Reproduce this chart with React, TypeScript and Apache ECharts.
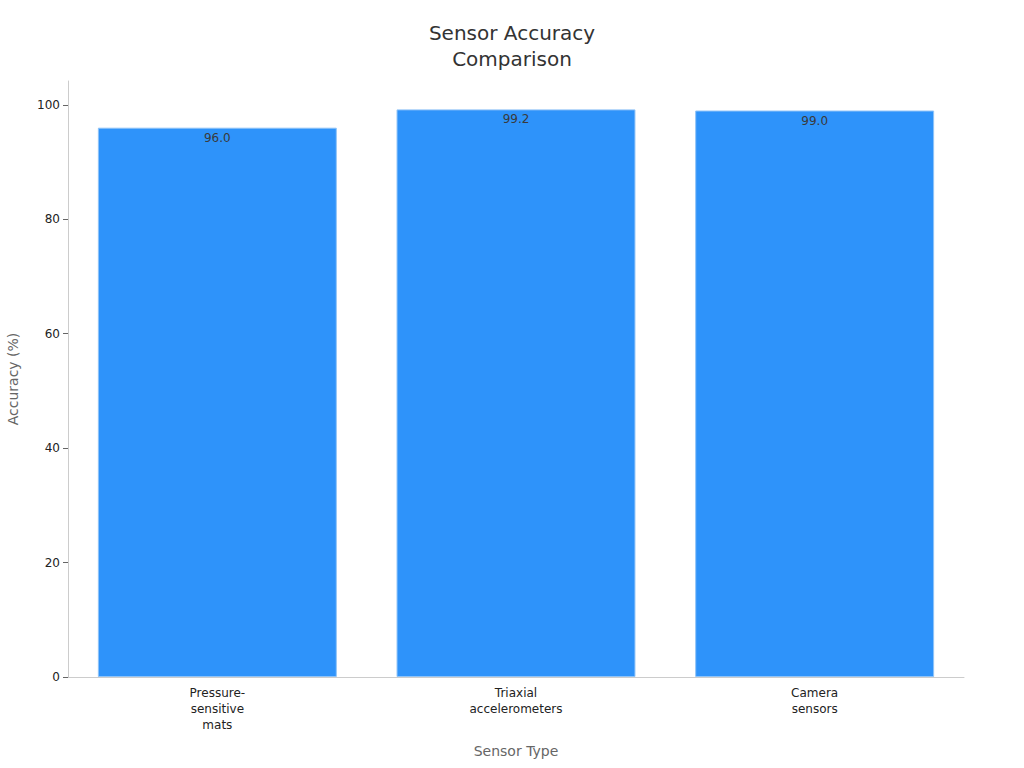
import React, { useEffect, useRef } from "react";
import * as echarts from "echarts";

const categories = ["Pressure-\nsensitive\nmats", "Triaxial\naccelerometers", "Camera\nsensors"];
const accuracy = [96.0, 99.2, 99.0];
const yTicks = [0, 20, 40, 60, 80, 100];

export default function App() {
  const ref = useRef<HTMLDivElement>(null);
  useEffect(() => {
    if (!ref.current) return;
    const chart = echarts.init(ref.current, undefined, { renderer: "svg" });
    const font = "DejaVu Sans";
    chart.setOption({
      animation: false,
      textStyle: { fontFamily: font },
      title: {
        text: "Sensor Accuracy\nComparison",
        left: "center",
        top: 15,
        textStyle: { fontSize: 20, fontWeight: "normal", color: "#333", lineHeight: 26, fontFamily: font },
      },
      grid: { left: 68, right: 60, top: 81, bottom: 91, containLabel: false, outerBoundsMode: "none" },
      xAxis: {
        type: "category",
        data: categories,
        name: "Sensor Type",
        nameLocation: "middle",
        nameGap: 67,
        nameTextStyle: { fontSize: 14, color: "#666", fontFamily: font },
        axisLine: { lineStyle: { color: "#ccc" } },
        axisTick: { alignWithLabel: true, lineStyle: { color: "#666" }, length: 5 },
        axisLabel: { fontSize: 12, color: "#222", lineHeight: 16, margin: 8, fontFamily: font },
      },
      yAxis: {
        type: "value",
        min: 0,
        max: 104.16,
        interval: 20,
        name: "Accuracy (%)",
        nameLocation: "middle",
        nameGap: 48,
        nameTextStyle: { fontSize: 14, color: "#666", fontFamily: font },
        axisLine: { show: true, lineStyle: { color: "#ccc" } },
        axisTick: { show: true, length: 5, lineStyle: { color: "#666" }, customValues: yTicks },
        splitLine: { show: false },
        axisLabel: {
          fontSize: 12,
          color: "#222",
          margin: 8,
          fontFamily: font,
          customValues: yTicks,
        },
      },
      series: [
        {
          type: "bar",
          data: accuracy,
          barWidth: "80%",
          itemStyle: { color: "#2E93FA", borderColor: "#8fc3f7", borderWidth: 1 },
          label: {
            show: true,
            position: "insideTop",
            distance: 4,
            color: "#3a3a3a",
            fontSize: 12,
            fontFamily: font,
            formatter: (p: any) => Number(p.value).toFixed(1),
          },
        },
      ],
    });
    return () => chart.dispose();
  }, []);
  return <div ref={ref} style={{ width: 1024, height: 768, position: "absolute", left: 0, top: 0 }} />;
}
